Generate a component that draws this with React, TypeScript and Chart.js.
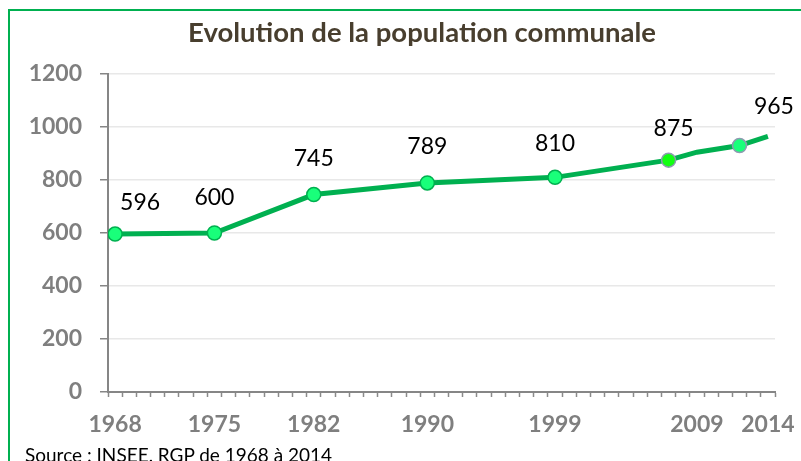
import React, { useEffect, useRef } from "react";
import { Chart, registerables } from "chart.js";

Chart.register(...registerables);

const title = "Evolution de la population communale";
const source = "Source : INSEE, RGP de 1968 à 2014";
const years = [1968, 1975, 1982, 1990, 1999, 2007, 2009, 2012, 2014];
const population = [596, 600, 745, 789, 810, 875, 905, 930, 965];
const showLabel = [true, true, true, true, true, true, false, false, true];
const axisYears = [1968, 1975, 1982, 1990, 1999, 2009, 2014];
const yTicks = [0, 200, 400, 600, 800, 1000, 1200];

const labelDx = [25, 0, 0, 0, 0, 5, 0, 0, 6];
const labelDy = [-31, -35, -36, -36, -34, -32, 0, 0, -30];
const pointRadius = [7, 7, 7, 7, 7, 7, 0, 7, 0];
const pointFill = ["#19ff7a", "#19ff7a", "#19ff7a", "#19ff7a", "#19ff7a", "#12ff12", "#19ff7a", "#19ff7a", "#19ff7a"];
const pointBorder = ["#00b050", "#00b050", "#00b050", "#00b050", "#00b050", "#8d9bb0", "#8d9bb0", "#8d9bb0", "#8d9bb0"];

const dataLabels = {
  id: "dataLabels",
  afterDatasetsDraw(chart: any) {
    const meta = chart.getDatasetMeta(0);
    const ctx = chart.ctx;
    ctx.save();
    ctx.font = "23px Lato";
    ctx.fillStyle = "#000000";
    ctx.textAlign = "center";
    ctx.textBaseline = "middle";
    meta.data.forEach((pt: any, i: number) => {
      if (!showLabel[i]) return;
      ctx.fillText(String(population[i]), pt.x + labelDx[i], pt.y + labelDy[i]);
    });
    ctx.restore();
  },
};

const titlePlugin = {
  id: "customTitle",
  afterDraw(chart: any) {
    const ctx = chart.ctx;
    ctx.save();
    ctx.font = "bold 27.5px Lato";
    ctx.fillStyle = "#483e2e";
    ctx.textAlign = "center";
    ctx.textBaseline = "middle";
    ctx.fillText(title, 422, 33);
    ctx.restore();
  },
};

function App() {
  const ref = useRef<HTMLCanvasElement | null>(null);
  useEffect(() => {
    if (!ref.current) return;
    Chart.defaults.font.family = "Lato";
    const chart = new Chart(ref.current, {
      type: "line",
      data: {
        datasets: [
          {
            data: years.map((y, i) => ({ x: y, y: population[i] })),
            borderColor: "#00b050",
            borderWidth: 5,
            tension: 0,
            pointRadius: pointRadius,
            pointBackgroundColor: pointFill,
            pointBorderColor: pointBorder,
            pointBorderWidth: 1.5,
            pointHoverRadius: pointRadius,
          },
        ],
      },
      options: {
        animation: false,
        responsive: false,
        maintainAspectRatio: false,
        layout: { padding: { left: 0, right: 26, top: 74, bottom: 0 } },
        plugins: {
          legend: { display: false },
          tooltip: { enabled: false },
          title: { display: false },
        },
        scales: {
          x: {
            type: "linear",
            min: 1967.5,
            max: 2014.5,
            afterBuildTicks: (scale: any) => {
              const vals: number[] = [];
              for (let v = 1967.5; v <= 2014.5; v += 1) vals.push(v);
              axisYears.forEach((y) => vals.push(y));
              vals.sort((a, b) => a - b);
              scale.ticks = vals.map((v) => ({ value: v }));
            },
            afterFit: (scale: any) => {
              scale.height = 69;
            },
            grid: {
              display: true,
              drawOnChartArea: false,
              drawTicks: true,
              tickLength: 5,
              tickWidth: 1.5,
              tickColor: (c: any) =>
                c.tick && Number.isInteger(c.tick.value) ? "rgba(0,0,0,0)" : "#8a8a8a",
            },
            border: { display: true, color: "#868686", width: 2 },
            ticks: {
              autoSkip: false,
              maxRotation: 0,
              minRotation: 0,
              padding: 14,
              color: "#7f7f7f",
              font: { family: "Lato", size: 23, weight: "bold" },
              callback: (v: any) => (axisYears.includes(Number(v)) ? String(v) : ""),
            },
          },
          y: {
            min: 0,
            max: 1200,
            afterBuildTicks: (scale: any) => {
              scale.ticks = yTicks.map((v) => ({ value: v }));
            },
            afterFit: (scale: any) => {
              scale.width = 108;
            },
            grid: {
              color: "#e8e8e8",
              lineWidth: 1.5,
              drawTicks: true,
              tickLength: 8,
              tickColor: "#868686",
              tickWidth: 1.5,
            },
            border: { display: true, color: "#868686", width: 2 },
            ticks: {
              padding: 18,
              color: "#7f7f7f",
              font: { family: "Lato", size: 23, weight: "bold" },
              callback: (v: any) => String(v),
            },
          },
        },
      },
      plugins: [dataLabels, titlePlugin],
    });
    return () => chart.destroy();
  }, []);

  return (
    <div style={{ position: "absolute", left: 0, top: 0, width: 801, height: 461, overflow: "hidden", background: "#ffffff" }}>
      <div
        style={{
          position: "absolute",
          left: 8,
          top: 9,
          width: 900,
          height: 600,
          borderLeft: "2px solid #00b050",
          borderTop: "2px solid #00b050",
        }}
      />
      <canvas ref={ref} width={801} height={461} style={{ position: "absolute", left: 0, top: 0, width: 801, height: 461 }} />
      <div
        style={{
          position: "absolute",
          left: 25,
          top: 444,
          fontFamily: "Lato",
          fontSize: 19,
          color: "#000000",
          whiteSpace: "nowrap",
          lineHeight: "22px",
        }}
      >
        {source}
      </div>
    </div>
  );
}

export default App;
